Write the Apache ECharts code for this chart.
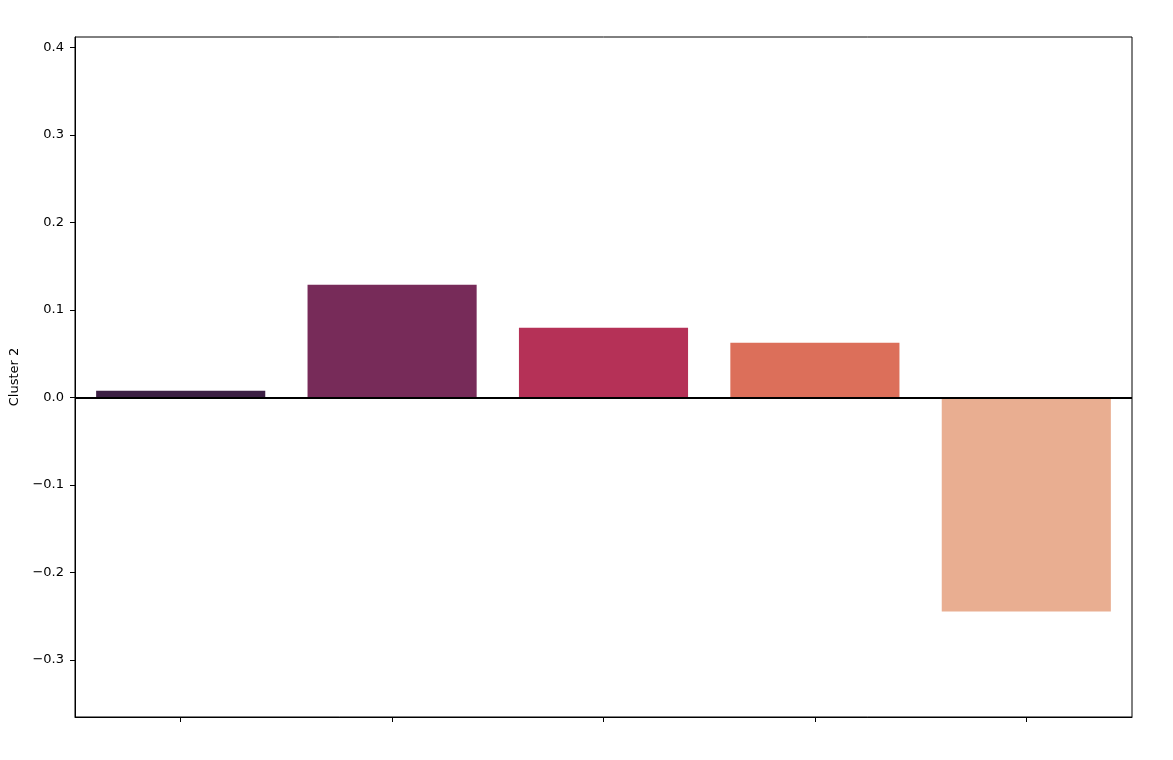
<!DOCTYPE html>
<html><head><meta charset="utf-8">
<script src="https://cdn.jsdelivr.net/npm/echarts@6/dist/echarts.min.js"></script>
<style>html,body{margin:0;padding:0;background:#fff}#c{width:1173px;height:760px}</style>
</head><body><div id="c"></div>
<script>
const categories = ['A', 'B', 'C', 'D', 'E'];
const values = [0.0076, 0.1288, 0.0797, 0.0625, -0.2446];
const barColors = ['#3c1f44', '#772b59', '#b53157', '#dc6f5a', '#e9ae91'];
const yTicks = [-0.3, -0.2, -0.1, 0.0, 0.1, 0.2, 0.3, 0.4];
const yLabel = 'Cluster 2';
const yMin = -0.3653, yMax = 0.4119;

const chart = echarts.init(document.getElementById('c'), null, {renderer: 'canvas'});
const fmt = v => (v < 0 ? '\u2212' : '') + Math.abs(v).toFixed(1);
chart.setOption({
  animation: false,
  backgroundColor: '#fff',
  grid: {left: 75, right: 41, top: 37, bottom: 43, show: true, borderColor: '#000', borderWidth: 1, containLabel: false, outerBoundsMode: 'none'},
  xAxis: {
    type: 'category', data: categories, boundaryGap: true,
    axisLine: {show: true, onZero: false, lineStyle: {color: '#000', width: 1}},
    axisTick: {show: true, alignWithLabel: true, length: 5, lineStyle: {color: '#000'}},
    axisLabel: {show: false},
    splitLine: {show: false}
  },
  yAxis: {
    type: 'value', min: yMin, max: yMax,
    name: yLabel, nameLocation: 'middle', nameGap: 48, nameRotate: 90,
    nameTextStyle: {fontFamily: 'DejaVu Sans', fontSize: 13, color: '#000'},
    axisLine: {show: true, lineStyle: {color: '#000', width: 1}},
    axisTick: {show: true, length: 5, lineStyle: {color: '#000'}, customValues: yTicks},
    axisLabel: {show: true, customValues: yTicks, formatter: fmt, fontFamily: 'DejaVu Sans', fontSize: 13, color: '#000', margin: 11},
    splitLine: {show: false}
  },
  series: [{
    type: 'bar',
    barWidth: '80%',
    data: values.map((v, i) => ({value: v, itemStyle: {color: barColors[i]}})),
    markLine: {
      silent: true, symbol: ['none', 'none'], label: {show: false},
      lineStyle: {color: '#000', width: 2, type: 'solid'},
      data: [{yAxis: 0}]
    }
  }]
});
</script></body></html>
